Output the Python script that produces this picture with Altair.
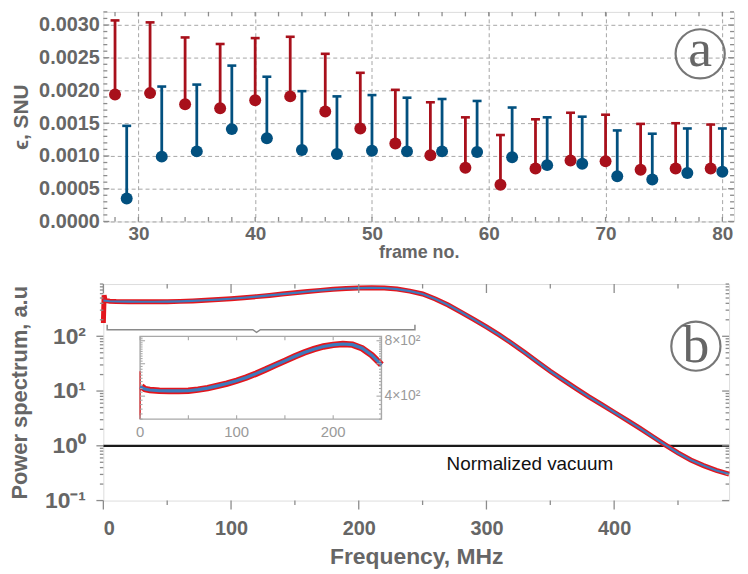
import altair as alt
import pandas as pd

GRAY_TXT = "#666666"
FRAME = "#8c8c8c"
RED_A = "#a8101b"
BLUE_A = "#02507f"
RED_B = "#e3161d"
BLUE_B = "#3c7bbd"
FONT = "Liberation Sans"

TOP_W, TOP_H = 635, 211
BOT_W, BOT_H = 630, 218

# ---------------- panel (a) data ----------------
FRAMES_RED = [28, 31, 34, 37, 40, 43, 46, 49, 52, 55, 58, 61, 64, 67, 70, 73, 76, 79]
EPS_RED = [0.00194, 0.00196, 0.00179, 0.00173, 0.00185, 0.00191, 0.00168, 0.00142, 0.00119,
           0.00101, 0.00082, 0.00056, 0.00081, 0.00093, 0.00092, 0.00079, 0.00081, 0.00081]
ERR_TOP_RED = [0.00307, 0.00304, 0.00281, 0.00271, 0.00280, 0.00282, 0.00256, 0.00227, 0.00201,
               0.00182, 0.00159, 0.00132, 0.00156, 0.00166, 0.00163, 0.00149, 0.00150, 0.00148]
FRAMES_BLUE = [29, 32, 35, 38, 41, 44, 47, 50, 53, 56, 59, 62, 65, 68, 71, 74, 77, 80]
EPS_BLUE = [0.00035, 0.00099, 0.00107, 0.00141, 0.00127, 0.00109, 0.00103, 0.00108, 0.00107,
            0.00107, 0.00106, 0.00098, 0.00086, 0.00088, 0.00069, 0.00064, 0.00074, 0.00076]
ERR_TOP_BLUE = [0.00146, 0.00206, 0.00209, 0.00238, 0.00221, 0.00199, 0.00191, 0.00193, 0.00189,
                0.00187, 0.00184, 0.00174, 0.00159, 0.00160, 0.00139, 0.00134, 0.00142, 0.00142]
X_TICKS_A = [30, 40, 50, 60, 70, 80]
Y_TICKS_A = [0.0, 0.0005, 0.0010, 0.0015, 0.0020, 0.0025, 0.0030]
X_MINOR_A = list(range(28, 81, 2))
Y_MINOR_A = [round(i * 0.0001, 4) for i in range(0, 33)]
LABEL_A = {"x": [78.1], "y": [0.00256], "t": ["a"]}

# ---------------- panel (b) data ----------------
FREQ = [0, 5, 10, 20, 30, 40, 50, 60, 70, 80, 90, 100, 110, 120, 130, 140, 150, 160, 170, 180,
        190, 200, 210, 220, 230, 240, 250, 260, 270, 280, 290, 300, 310, 320, 330, 340, 350, 360,
        370, 380, 390, 400, 410, 420, 430, 440, 450, 460, 470, 480, 490]
POWER = [450, 437, 432, 428, 427, 427, 428, 434, 442, 455, 468, 485, 505, 530, 558, 590, 622, 657,
         690, 720, 745, 760, 768, 762, 728, 668, 592, 480, 372, 277, 204, 148, 106, 74, 50.5, 34,
         23, 16, 11.2, 7.9, 5.7, 4.1, 2.95, 2.1, 1.48, 1.04, 0.74, 0.55, 0.435, 0.355, 0.305]
SPIKE_FREQ = [0, 0.6, 1.4]
SPIKE_POWER = [175, 560, 452]
VAC_FREQ = [0, 490]
VAC_POWER = [1.0, 1.0]
BRACKET_F = [3, 3, 117, 120, 123, 244, 244]
BRACKET_P = [163, 132, 132, 118, 132, 132, 163]
X_TICKS_B = [0, 100, 200, 300, 400]
X_MINOR_B = [50, 150, 250, 350, 450]
Y_TICKS_B = [0.1, 1, 10, 100]
Y_LABELS_B = ["10⁻¹", "10⁰", "10¹", "10²"]
Y_MINOR_B = [k * 10.0 ** e for e in (-1, 0, 1, 2) for k in range(2, 10) if k * 10.0 ** e <= 900]
LABEL_B = {"x": [464], "y": [66], "t": ["b"]}
NOTE = {"x": [334], "y": [0.46], "t": ["Normalized vacuum"]}

INSET_X_TICKS = [0, 50, 100, 150, 200, 250]
INSET_X_LABELS = {"v": [0, 100, 200], "t": ["0", "100", "200"]}
INSET_Y_TICKS = list(range(300, 841, 20))
INSET_Y_LABELS = {"v": [800, 400], "t": ["8×10²", "4×10²"]}
INSET_BOX = {"x0": [0], "x1": [250], "y0": [300], "y1": [845]}
INSET_SPIKE = {"f": [0], "lo": [300], "hi": [546]}
# inset placement inside panel (b), pixels from plot origin
IX0, IX1 = 37, 280
IY_TOP, IY_BOT = 52.7, 136

# ================= panel (a) =================
xa = alt.Scale(domain=[27, 81], nice=False, zero=False)
ya = alt.Scale(domain=[0, 0.0032], nice=False, zero=False)

common_lbl = dict(labelFont=FONT, labelFontWeight="bold", labelColor=GRAY_TXT,
                  titleFont=FONT, titleFontWeight="bold", titleColor=GRAY_TXT,
                  ticks=False, domain=False)

x_axis_a = alt.Axis(values=X_TICKS_A, format="d", grid=True, gridDash=[4, 3], gridColor="#a5a5a5",
                    gridWidth=1, labelFontSize=19, labelPadding=3, title="frame no.",
                    titleFontSize=18, titleY=22, **common_lbl)
y_axis_a = alt.Axis(values=Y_TICKS_A, format=".4f", grid=True, gridDash=[4, 3], gridColor="#a5a5a5",
                    gridWidth=1, labelFontSize=20, labelPadding=4, title="ϵ, SNU",
                    titleFontSize=21, titleX=-72, **common_lbl)


def XA(field):
    return alt.X(field, scale=xa, axis=x_axis_a)


def YA(field):
    return alt.Y(field, scale=ya, axis=y_axis_a)


red_df = pd.DataFrame({"frame": FRAMES_RED, "eps": EPS_RED, "hi": ERR_TOP_RED})
blue_df = pd.DataFrame({"frame": FRAMES_BLUE, "eps": EPS_BLUE, "hi": ERR_TOP_BLUE})


def err_series(df, color):
    bars = alt.Chart(df).mark_rule(color=color, strokeWidth=2.8).encode(
        x=XA("frame:Q"), y=YA("eps:Q"), y2="hi:Q")
    caps = alt.Chart(df).mark_tick(color=color, thickness=2.6, size=9, orient="horizontal",
                                   opacity=1).encode(x=XA("frame:Q"), y=YA("hi:Q"))
    pts = alt.Chart(df).mark_circle(color=color, size=145, opacity=1).encode(
        x=XA("frame:Q"), y=YA("eps:Q"))
    return [bars, caps, pts]


xt_a = pd.DataFrame({"v": X_MINOR_A})
yt_a = pd.DataFrame({"v": Y_MINOR_A,
                     "major": [abs(v / 0.0005 - round(v / 0.0005)) < 1e-6 for v in Y_MINOR_A]})


def rule_x(df, y0, y1, xenc, color=FRAME, w=1.3):
    return alt.Chart(df).mark_rule(color=color, strokeWidth=w).encode(
        x=xenc, y=alt.value(y0), y2=alt.value(y1))


def rule_y(df, x0, x1, yenc, color=FRAME, w=1.3):
    return alt.Chart(df).mark_rule(color=color, strokeWidth=w).encode(
        y=yenc, x=alt.value(x0), x2=alt.value(x1))


ticks_a = [
    rule_x(xt_a, TOP_H, TOP_H - 4.5, XA("v:Q")),
    rule_x(xt_a, 0, 4.5, XA("v:Q")),
    rule_y(yt_a[yt_a.major], 0, 6, YA("v:Q")),
    rule_y(yt_a[~yt_a.major], 0, 4, YA("v:Q")),
    rule_y(yt_a[yt_a.major], TOP_W, TOP_W - 6, YA("v:Q")),
    rule_y(yt_a[~yt_a.major], TOP_W, TOP_W - 4, YA("v:Q")),
]

lab_a = pd.DataFrame(LABEL_A)
circ_a = alt.Chart(lab_a).mark_point(shape="circle", size=2450, filled=False, stroke="#777777",
                                     strokeWidth=2.2, opacity=1).encode(x=XA("x:Q"), y=YA("y:Q"))
text_a = alt.Chart(lab_a).mark_text(font="Liberation Serif", fontSize=54, color="#666666",
                                    baseline="middle", dy=-4).encode(
    x=XA("x:Q"), y=YA("y:Q"), text="t:N")

top = alt.layer(*err_series(red_df, RED_A), *err_series(blue_df, BLUE_A),
                *ticks_a, circ_a, text_a).properties(width=TOP_W, height=TOP_H)

# ================= panel (b) =================
xb = alt.Scale(domain=[0, 490], nice=False, zero=False)
yb = alt.Scale(type="log", domain=[0.1, 900], nice=False)

label_expr = ("datum.value < 0.5 ? '%s' : datum.value < 5 ? '%s' : datum.value < 50 ? '%s' : '%s'"
              % tuple(Y_LABELS_B))
x_axis_b = alt.Axis(values=X_TICKS_B, format="d", grid=False, labelFontSize=20, labelPadding=18,
                    title="Frequency, MHz", titleFontSize=23, titleY=45, **common_lbl)
y_axis_b = alt.Axis(values=Y_TICKS_B, labelExpr=label_expr, grid=False, labelFontSize=23,
                    labelPadding=18, title="Power spectrum, a.u", titleFontSize=22, titleX=-72,
                    **common_lbl)


def XB(field):
    return alt.X(field, scale=xb, axis=x_axis_b)


def YB(field):
    return alt.Y(field, scale=yb, axis=y_axis_b)


red_b_df = pd.DataFrame({"f": SPIKE_FREQ + FREQ[1:], "p": SPIKE_POWER + POWER[1:]})
red_b_df["o"] = range(len(red_b_df))
blue_b_df = pd.DataFrame({"f": FREQ, "p": POWER})
blue_b_df["o"] = range(len(blue_b_df))
vac_df = pd.DataFrame({"f": VAC_FREQ, "p": VAC_POWER})
br_df = pd.DataFrame({"f": BRACKET_F, "p": BRACKET_P, "o": list(range(len(BRACKET_F)))})

vac = alt.Chart(vac_df).mark_line(color="#1a1a1a", strokeWidth=2.2).encode(x=XB("f:Q"), y=YB("p:Q"))
red_main = alt.Chart(red_b_df).mark_line(color=RED_B, strokeWidth=5).encode(
    x=XB("f:Q"), y=YB("p:Q"), order="o:Q")
blue_main = alt.Chart(blue_b_df).mark_line(color=BLUE_B, strokeWidth=2.2).encode(
    x=XB("f:Q"), y=YB("p:Q"), order="o:Q")
bracket = alt.Chart(br_df).mark_line(color="#8a8a8a", strokeWidth=1.5).encode(
    x=XB("f:Q"), y=YB("p:Q"), order="o:Q")

xt_b_maj = pd.DataFrame({"v": X_TICKS_B})
xt_b_min = pd.DataFrame({"v": X_MINOR_B})
yt_b_maj = pd.DataFrame({"v": Y_TICKS_B})
yt_b_min = pd.DataFrame({"v": Y_MINOR_B})

ticks_b = [
    rule_x(xt_b_maj, BOT_H, BOT_H + 9, XB("v:Q")), rule_x(xt_b_min, BOT_H, BOT_H + 4.5, XB("v:Q")),
    rule_x(xt_b_maj, 0, 9, XB("v:Q")), rule_x(xt_b_min, 0, 4.5, XB("v:Q")),
    rule_y(yt_b_maj, 0, -7, YB("v:Q")), rule_y(yt_b_min, 0, -3.5, YB("v:Q")),
    rule_y(yt_b_maj, BOT_W, BOT_W - 7, YB("v:Q")), rule_y(yt_b_min, BOT_W, BOT_W - 3.5, YB("v:Q")),
]

lab_b = pd.DataFrame(LABEL_B)
circ_b = alt.Chart(lab_b).mark_point(shape="circle", size=2450, filled=False, stroke="#777777",
                                     strokeWidth=2.2, opacity=1).encode(x=XB("x:Q"), y=YB("y:Q"))
text_b = alt.Chart(lab_b).mark_text(font="Liberation Serif", fontSize=54, color="#666666",
                                    baseline="middle", dy=0).encode(
    x=XB("x:Q"), y=YB("y:Q"), text="t:N")
note = alt.Chart(pd.DataFrame(NOTE)).mark_text(font=FONT, fontSize=19, color="#111111",
                                               baseline="middle").encode(
    x=XB("x:Q"), y=YB("y:Q"), text="t:N")

main_b = alt.layer(vac, red_main, blue_main, bracket, *ticks_b, circ_b, text_b, note)

# ---- inset ----
ixb = alt.Scale(domain=[0, 250], range=[IX0, IX1], nice=False, zero=False)
iyb = alt.Scale(type="log", domain=[300, 845], range=[IY_BOT, IY_TOP], nice=False, clamp=True)


def IX(field):
    return alt.X(field, scale=ixb, axis=None)


def IY(field):
    return alt.Y(field, scale=iyb, axis=None)


in_red = red_b_df[red_b_df.f > 1]
in_blue = blue_b_df[blue_b_df.f <= 250]

box = alt.Chart(pd.DataFrame(INSET_BOX)).mark_rect(fill="white", stroke="#a8a8a8",
                                                   strokeWidth=1.4).encode(
    x=IX("x0:Q"), x2="x1:Q", y=IY("y0:Q"), y2="y1:Q")
in_spike = alt.Chart(pd.DataFrame(INSET_SPIKE)).mark_rule(color=RED_B, strokeWidth=1.2).encode(
    x=IX("f:Q"), y=IY("lo:Q"), y2="hi:Q")
in_red_l = alt.Chart(in_red[in_red.f <= 250]).mark_line(color=RED_B, strokeWidth=6.5).encode(
    x=IX("f:Q"), y=IY("p:Q"), order="o:Q")
in_blue_l = alt.Chart(in_blue).mark_line(color=BLUE_B, strokeWidth=3.2).encode(
    x=IX("f:Q"), y=IY("p:Q"), order="o:Q")

ixt = pd.DataFrame({"v": INSET_X_TICKS})
iyt = pd.DataFrame({"v": INSET_Y_TICKS})
iyt_maj = iyt[iyt.v.isin([400, 600, 800])]
iyt_min = iyt[~iyt.v.isin([400, 600, 800])]
IC = "#a8a8a8"
inset_ticks = [
    rule_x(ixt, IY_BOT, IY_BOT - 4, IX("v:Q"), IC, 1.1), rule_x(ixt, IY_TOP, IY_TOP + 4, IX("v:Q"), IC, 1.1),
    rule_y(iyt_maj, IX0, IX0 + 5, IY("v:Q"), IC, 1.1), rule_y(iyt_min, IX0, IX0 + 2.5, IY("v:Q"), IC, 1.1),
    rule_y(iyt_maj, IX1, IX1 - 5, IY("v:Q"), IC, 1.1), rule_y(iyt_min, IX1, IX1 - 2.5, IY("v:Q"), IC, 1.1),
]
in_xlab = alt.Chart(pd.DataFrame(INSET_X_LABELS)).mark_text(
    font=FONT, fontSize=15, color="#9a9a9a", baseline="middle").encode(
    x=IX("v:Q"), y=alt.value(IY_BOT + 13), text="t:N")
in_ylab = alt.Chart(pd.DataFrame(INSET_Y_LABELS)).mark_text(
    font=FONT, fontSize=14, color="#9a9a9a", baseline="middle", align="left").encode(
    y=IY("v:Q"), x=alt.value(IX1 + 3), text="t:N")

inset_b = alt.layer(box, in_spike, in_red_l, in_blue_l, *inset_ticks, in_xlab, in_ylab)

bottom = alt.layer(main_b, inset_b).resolve_scale(x="independent", y="independent").properties(
    width=BOT_W, height=BOT_H)

chart = alt.vconcat(top, bottom, spacing=15).properties(padding=0).configure_view(
    stroke=FRAME, strokeWidth=1.8).configure(font=FONT)

chart.save("out.html", embed_options={"renderer": "svg", "actions": False})
